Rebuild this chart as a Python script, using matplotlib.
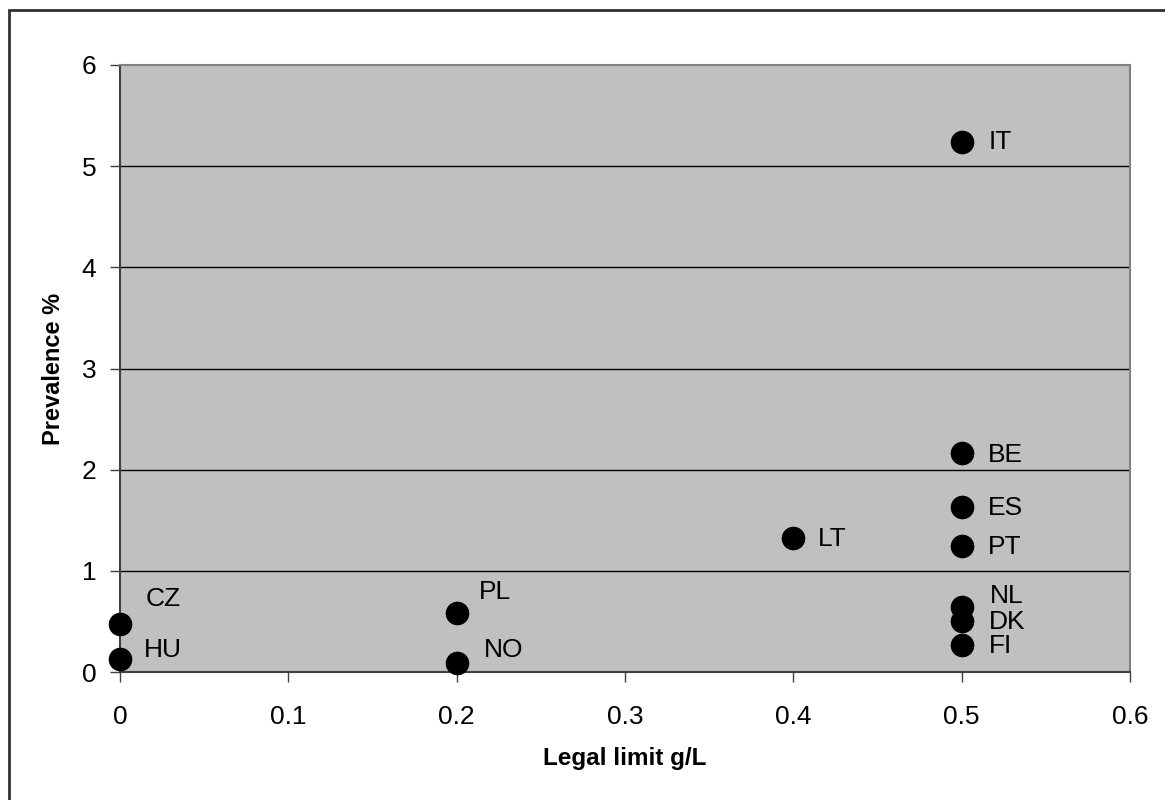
import matplotlib
matplotlib.use("Agg")
import matplotlib.pyplot as plt
from matplotlib.patches import Rectangle

plt.rcParams['font.family'] = ['Liberation Sans', 'DejaVu Sans']

countries = ["IT", "BE", "ES", "PT", "LT", "NL", "DK", "FI", "CZ", "HU", "PL", "NO"]
legal_limit = [0.5, 0.5, 0.5, 0.5, 0.4, 0.5, 0.5, 0.5, 0.0, 0.0, 0.2, 0.2]
prevalence = [5.24, 2.16, 1.63, 1.245, 1.32, 0.64, 0.50, 0.27, 0.47, 0.13, 0.58, 0.09]
# label offsets in pixels (dx, dy)
label_offsets = [(27, 0), (26, -2), (26, -1), (26, -1), (25, -1), (28, 11),
                 (27, -1), (27, -1), (26, 25), (24, 9), (22, 21), (27, 13)]
x_ticks = [0, 0.1, 0.2, 0.3, 0.4, 0.5, 0.6]
y_ticks = [0, 1, 2, 3, 4, 5, 6]

W, H = 1165, 800
fig = plt.figure(figsize=(W / 100, H / 100), dpi=100)
ax = fig.add_axes([120 / W, 1 - 672 / H, (1130 - 120) / W, (672 - 65) / H])
ax.set_facecolor('#C0C0C0')

ax.set_xlim(0, 0.6)
ax.set_ylim(0, 6)
ax.set_xticks(x_ticks)
ax.set_yticks(y_ticks)
ax.set_xticklabels([f"{t:g}" for t in x_ticks])
ax.set_yticklabels([f"{t:g}" for t in y_ticks])

for yv in y_ticks[1:-1]:
    ax.axhline(yv, color='black', lw=1.0, zorder=1)

ax.scatter(legal_limit, prevalence, s=16 ** 2, color='black', zorder=3, clip_on=False)
for c, x, y, (dx, dy) in zip(countries, legal_limit, prevalence, label_offsets):
    ax.annotate(c, (x, y), xytext=(dx, dy), textcoords='offset pixels',
                ha='left', va='center', fontsize=19, color='black', zorder=4)

ax.tick_params(axis='x', direction='out', length=7, width=1, color='#404040',
               labelsize=19, pad=17)
ax.tick_params(axis='y', direction='out', length=7, width=1, color='#404040',
               labelsize=19, pad=10)
for s in ['left', 'bottom']:
    ax.spines[s].set_color('#404040')
    ax.spines[s].set_linewidth(1.5)
for s in ['top', 'right']:
    ax.spines[s].set_color('#808080')
    ax.spines[s].set_linewidth(1.5)

ax.set_xlabel("Legal limit g/L", fontsize=17.5, fontweight='bold', labelpad=13)
ax.set_ylabel("Prevalence %", fontsize=17, fontweight='bold', labelpad=12)

fig.patches.append(Rectangle((9 / W, -0.05), 1.0, 1 - 10 / H + 0.05,
                             transform=fig.transFigure, fill=False,
                             edgecolor='#303030', lw=2))

fig.savefig("out.png", dpi=100)
